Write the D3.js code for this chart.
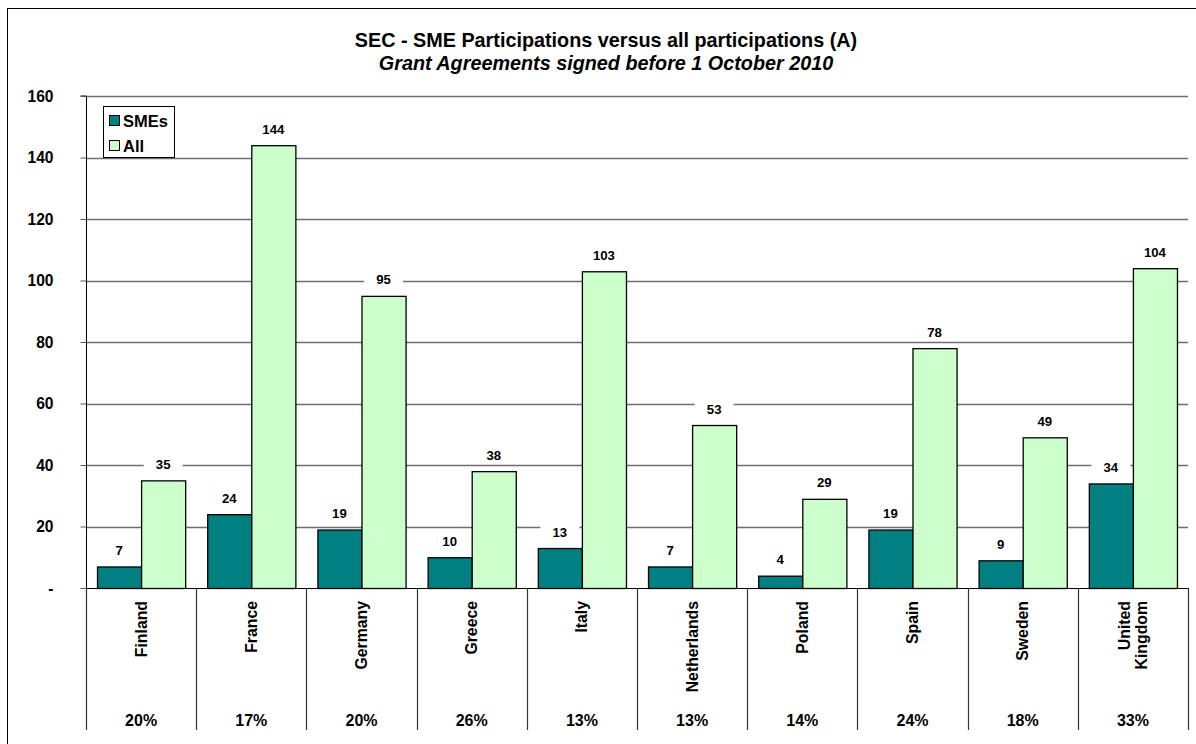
<!DOCTYPE html>
<html><head><meta charset="utf-8">
<script src="https://cdn.jsdelivr.net/npm/d3@7"></script>
<style>body{margin:0;background:#fff}svg{display:block;font-family:"Liberation Sans",Arial,sans-serif}</style>
</head><body>
<script>
const countries = ["Finland","France","Germany","Greece","Italy","Netherlands","Poland","Spain","Sweden","United Kingdom"];
const smes = [7,24,19,10,13,7,4,19,9,34];
const all = [35,144,95,38,103,53,29,78,49,104];
const shares = ["20%","17%","20%","26%","13%","13%","14%","24%","18%","33%"];
const seriesNames = ["SMEs","All"];
const yTicks = [0,20,40,60,80,100,120,140,160];
const titleText = "SEC - SME Participations versus all participations (A)";
const subtitleText = "Grant Agreements signed before 1 October 2010";
const colors = ["#008080","#CCFFCC"];

(function(){
const W = 1196, H = 744;
const FF = "'Liberation Sans',Arial,sans-serif";
const svg = d3.select("body").append("svg").attr("width",W).attr("height",H).attr("font-family",FF);
svg.append("rect").attr("x",7.5).attr("y",8.5).attr("width",W).attr("height",H).attr("fill","#fff").attr("stroke","#000").attr("stroke-width",1);

const pL = 86, pR = 1188, pT = 96, pB = 588;
const x = d3.scaleBand().domain(countries).range([pL,pR]).paddingInner(0).paddingOuter(0);
const xs = d3.scaleBand().domain(seriesNames).range([0,x.bandwidth()]).paddingInner(0).paddingOuter(0.25);
const y = d3.scaleLinear().domain([0,160]).range([pB,pT]);

svg.append("text").attr("x",606).attr("y",47).attr("text-anchor","middle").attr("font-size",19.8).attr("font-weight","bold").text(titleText);
svg.append("text").attr("x",606).attr("y",70).attr("text-anchor","middle").attr("font-size",19.8).attr("font-weight","bold").attr("font-style","italic").text(subtitleText);

// gridlines
svg.append("g").selectAll("line").data(yTicks.filter(d=>d>0)).join("line")
  .attr("x1",pL).attr("x2",pR).attr("y1",d=>Math.round(y(d))+0.5).attr("y2",d=>Math.round(y(d))+0.5)
  .attr("stroke","#6e6e6e").attr("stroke-width",1.3);

// y axis
const yAxis = d3.axisLeft(y).tickValues(yTicks).tickSize(6).tickFormat(d=>d===0?"-":d);
const ga = svg.append("g").attr("transform",`translate(${pL+0.5},0)`).call(yAxis);
ga.select(".domain").attr("stroke","#000").attr("d",`M-6,${pT}H0V${pB}`);
ga.selectAll(".tick line").attr("stroke","#555");
ga.selectAll(".tick text").attr("x",-33).attr("font-size",15.6).attr("font-weight","bold").attr("fill","#000").attr("font-family",FF);

// category dividers below axis
svg.append("line").attr("x1",pL).attr("x2",pR).attr("y1",pB+0.5).attr("y2",pB+0.5).attr("stroke","#000");
svg.append("g").selectAll("line").data(countries.concat(["__end"])).join("line")
  .attr("x1",(d,i)=>Math.round(i<countries.length?x(d):pR)+0.5)
  .attr("x2",(d,i)=>Math.round(i<countries.length?x(d):pR)+0.5)
  .attr("y1",pB).attr("y2",730).attr("stroke","#333").attr("stroke-width",1.2);

// bars
const data = countries.map((c,i)=>({c,vals:[smes[i],all[i]]}));
const groups = svg.append("g").selectAll("g").data(data).join("g").attr("transform",d=>`translate(${x(d.c)},0)`);
groups.selectAll("rect").data(d=>d.vals.map((v,j)=>({v,s:seriesNames[j],j}))).join("rect")
  .attr("x",d=>xs(d.s)+0.5).attr("width",xs.bandwidth()).attr("y",d=>y(d.v)+0.5).attr("height",d=>y(0)-y(d.v))
  .attr("fill",d=>colors[d.j]).attr("stroke","#000").attr("stroke-width",1.3);

// value labels with white background
groups.selectAll("g.lab").data(d=>d.vals.map((v,j)=>({v,s:seriesNames[j],j}))).join("g").attr("class","lab")
  .each(function(d){
    const g = d3.select(this);
    const cx = xs(d.s)+xs.bandwidth()/2, cy = y(d.v)-16;
    const w = String(d.v).length*7.5+24;
    g.append("rect").attr("x",cx-w/2).attr("y",cy-7).attr("width",w).attr("height",14).attr("fill","#fff");
    g.append("text").attr("x",cx).attr("y",cy+4.5).attr("text-anchor","middle").attr("font-size",13.2).attr("font-weight","bold").text(d.v);
  });

// country labels rotated
data.forEach(d=>{
  const cx = x(d.c)+x.bandwidth()/2;
  const parts = d.c==="United Kingdom" ? ["United","Kingdom"] : [d.c];
  const t = svg.append("text").attr("transform",`translate(${cx},601) rotate(-90)`).attr("text-anchor","end")
    .attr("font-size",15.8).attr("font-weight","bold");
  parts.forEach((p,k)=>{
    const off = parts.length===1 ? 5.5 : (k===0 ? -3 : 14.5);
    t.append("tspan").attr("x",0).attr("y",off).text(p);
  });
});
// percentage row
svg.append("g").selectAll("text").data(countries).join("text")
  .attr("x",d=>x(d)+x.bandwidth()/2).attr("y",726).attr("text-anchor","middle")
  .attr("font-size",16).attr("font-weight","bold").text((d,i)=>shares[i]);

// legend
const lg = svg.append("g");
lg.append("rect").attr("x",103.5).attr("y",106.5).attr("width",71).attr("height",51).attr("fill","#fff").attr("stroke","#000");
seriesNames.forEach((s,i)=>{
  lg.append("rect").attr("x",109.5).attr("y",115.5+i*25).attr("width",10).attr("height",10).attr("fill",colors[i]).attr("stroke","#000");
  lg.append("text").attr("x",123).attr("y",126.5+i*25).attr("font-size",16.5).attr("font-weight","bold").text(s);
});
})();
</script>
</body></html>
